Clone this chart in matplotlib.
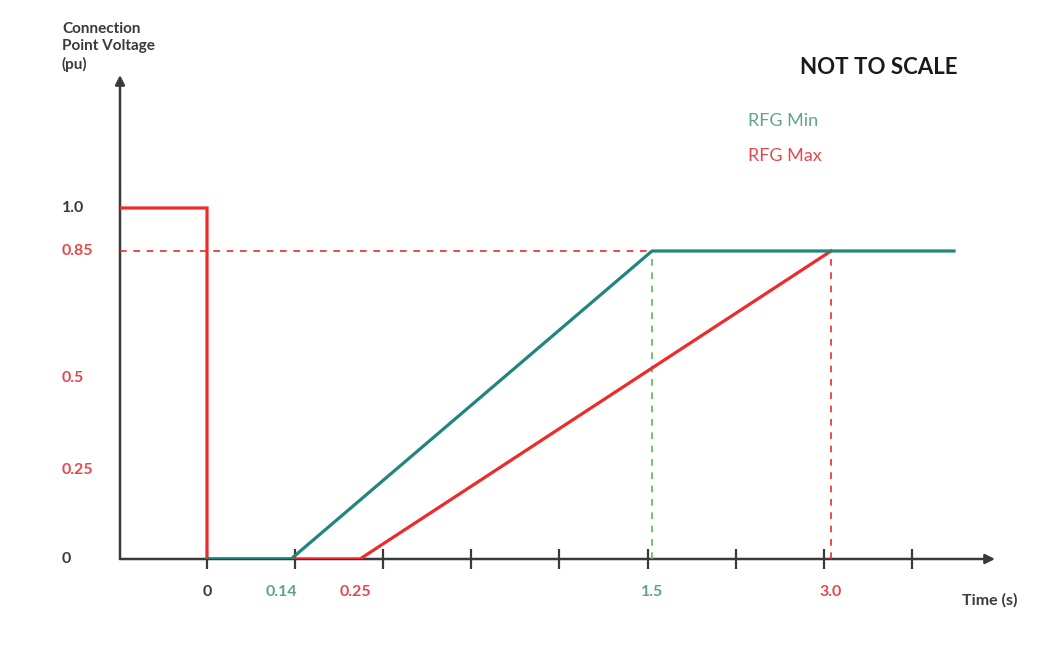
import numpy as np
import matplotlib
matplotlib.use("Agg")
import matplotlib.pyplot as plt
import matplotlib.transforms as mtransforms

# ---- data ----
rfg_max_t = [-1.0, 0.0, 0.0, 0.25, 3.0]
rfg_max_v = [1.0, 1.0, 0.0, 0.0, 0.85]
rfg_min_t = [0.0, 0.14, 1.5, 3.75]
rfg_min_v = [0.0, 0.0, 0.85, 0.85]
ref_level = 0.85
x_tick_times = [0.0, 0.14, 0.25, 1.5, 3.0]
x_tick_labels = ["0", "0.14", "0.25", "1.5", "3.0"]
y_tick_vals = [0.0, 0.25, 0.5, 0.85, 1.0]
y_tick_labels = ["0", "0.25", "0.5", "0.85", "1.0"]

# ---- colours ----
RED = "#ee2a2a"
TEAL = "#22857c"
LGREEN = "#5cb85c"
DARK = "#3a3a3a"
LBL_RED = "#e8474a"
LBL_GREEN = "#5fa58c"

# "not to scale" mapping (time -> drawn distance, voltage -> drawn height)
T_ANCH = [-1.0, 0.0, 0.14, 0.25, 1.5, 3.0, 4.0]
X_ANCH = [0, 87, 171, 240, 532, 711, 875]
V_ANCH = [0.0, 0.25, 0.5, 0.85, 1.0, 1.4]
Y_ANCH = [0, 89, 181, 308, 351, 484]

def fx(t):
    return np.interp(t, T_ANCH, X_ANCH)

def ix(u):
    return np.interp(u, X_ANCH, T_ANCH)

def fy(v):
    return np.interp(v, V_ANCH, Y_ANCH)

def iy(u):
    return np.interp(u, Y_ANCH, V_ANCH)

plt.rcParams['font.family'] = ['Lato', 'DejaVu Sans']

fig = plt.figure(figsize=(10.44, 6.5), dpi=100)
ax = fig.add_axes([120/1044, 91/650, 875/1044, 484/650])
ax.set_xscale('function', functions=(fx, ix))
ax.set_yscale('function', functions=(fy, iy))
ax.set_xlim(-1.0, 4.0)
ax.set_ylim(0.0, 1.4)

for s in ax.spines.values():
    s.set_visible(False)

# axis arrows
ax.annotate("", xy=(1.0, 0), xytext=(0, 0), xycoords='axes fraction',
            arrowprops=dict(arrowstyle='-|>', color=DARK, lw=1.8,
                            mutation_scale=14, shrinkA=0, shrinkB=0), zorder=2)
ax.annotate("", xy=(0, 1.0), xytext=(0, 0), xycoords='axes fraction',
            arrowprops=dict(arrowstyle='-|>', color=DARK, lw=1.8,
                            mutation_scale=14, shrinkA=0, shrinkB=0), zorder=2)

# tick marks (uniform drawn spacing, not to scale)
tick_pos = ix(np.arange(87, 800, 88.1))
ax.set_xticks(tick_pos)
ax.set_xticklabels([])
ax.tick_params(axis='x', direction='inout', length=14, width=1.6, color=DARK)
ax.set_yticks([])
ax.minorticks_off()

# reference dashed lines
ax.plot([-1.0, 3.0], [ref_level, ref_level], color=RED, lw=1.2, ls=(0, (4, 4)), zorder=2)
ax.plot([1.5, 1.5], [-0.015, ref_level], color=LGREEN, lw=1.2, ls=(0, (4, 4)),
        zorder=2, clip_on=False)
ax.plot([3.0, 3.0], [-0.015, ref_level], color=RED, lw=1.2, ls=(0, (4, 4)),
        zorder=2, clip_on=False)

# main curves
ax.plot(rfg_max_t, rfg_max_v, color=RED, lw=2.3, zorder=3, solid_joinstyle='miter')
ax.plot(rfg_min_t, rfg_min_v, color=TEAL, lw=2.3, zorder=4)

# x labels
x_colors = [DARK, LBL_GREEN, LBL_RED, LBL_GREEN, LBL_RED]
x_offsets = [0, -10, -5, 0, 0]
tx = ax.get_xaxis_transform()
for t, lab, c, off in zip(x_tick_times, x_tick_labels, x_colors, x_offsets):
    tr = tx + mtransforms.ScaledTranslation(off/100, 0, fig.dpi_scale_trans)
    ax.text(t, -33/484, lab, transform=tr, ha='center', va='center',
            color=c, fontsize=11.5, fontweight='bold')

ax.text(0.994, -41/484, "Time (s)", transform=ax.transAxes, ha='center',
        va='center', color=DARK, fontsize=11.5, fontweight='bold')

# y labels
y_colors = [DARK, LBL_RED, LBL_RED, LBL_RED, DARK]
ty = ax.get_yaxis_transform()
for v, lab, c in zip(y_tick_vals, y_tick_labels, y_colors):
    ax.text(-58/875, v, lab, transform=ty, ha='left', va='center',
            color=c, fontsize=11.5, fontweight='bold')

fig.text(62/1044, 1 - 22/650, "Connection\nPoint Voltage\n(pu)", ha='left', va='top',
         color=DARK, fontsize=11, fontweight='bold', linespacing=1.3)
fig.text(800/1044, 1 - 68/650, "NOT TO SCALE", ha='left', va='center',
         color='#1a1a1a', fontsize=16, fontweight='bold')
fig.text(748/1044, 1 - 121/650, "RFG Min", ha='left', va='center',
         color=LBL_GREEN, fontsize=13)
fig.text(748/1044, 1 - 156/650, "RFG Max", ha='left', va='center',
         color=LBL_RED, fontsize=13)

fig.savefig("out.png", dpi=100, facecolor='white')
